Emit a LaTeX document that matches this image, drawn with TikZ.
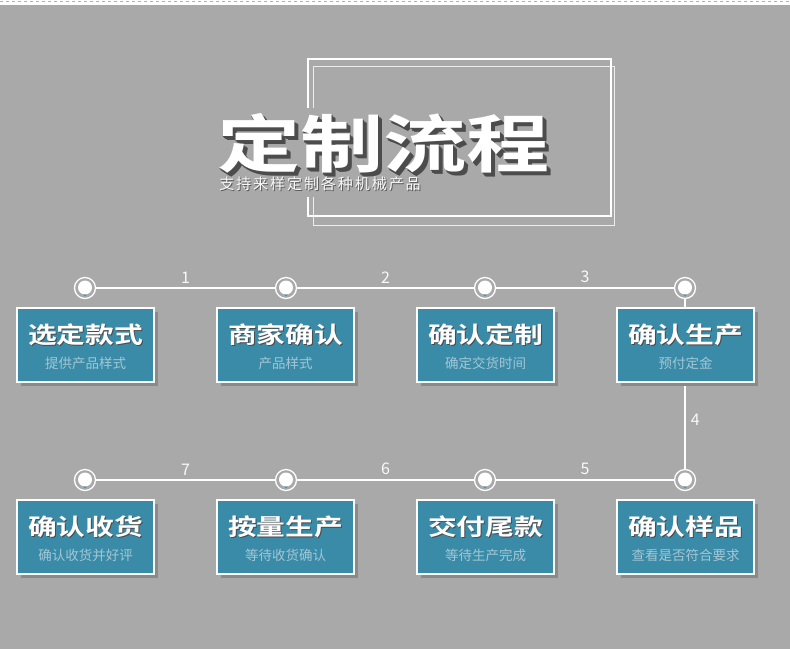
\documentclass[tikz,border=0pt]{standalone}
\usepackage{fontspec}
\usepackage{graphicx}
\newfontfamily\cjk{Noto Sans CJK SC}
\newfontfamily\cjkb{Noto Sans CJK SC Bold}
\newfontfamily\cjkls{Noto Sans CJK SC}[LetterSpace=13]
\usetikzlibrary{shadows}
\definecolor{bg}{HTML}{A9A9A9}
\definecolor{boxc}{HTML}{3A8BA8}
\definecolor{subc}{HTML}{A3C7D5}
\definecolor{shad}{HTML}{8A8A8A}
\definecolor{tshad}{HTML}{4C4C4C}
\newcommand{\ttl}{\scalebox{1.32}[1]{定制流程}}
\newcommand{\extrude}[1]{%
  \makebox[0pt][l]{\color{tshad}\hspace{0.8pt}\raisebox{-0.8pt}{#1}}%
  \makebox[0pt][l]{\color{tshad}\hspace{1.6pt}\raisebox{-1.6pt}{#1}}%
  \makebox[0pt][l]{\color{tshad}\hspace{2.4pt}\raisebox{-2.4pt}{#1}}%
  \makebox[0pt][l]{\color{tshad}\hspace{3.2pt}\raisebox{-3.2pt}{#1}}%
  \makebox[0pt][l]{\color{tshad}\hspace{4pt}\raisebox{-4pt}{#1}}%
  #1}
\newcommand{\softshadow}[1]{%
  \makebox[0pt][l]{\color{tshad}\hspace{1pt}\raisebox{-1pt}{#1}}#1}
\tikzset{
  stepbox/.style={draw=white, line width=1.3pt, fill=boxc, minimum width=137pt,
    minimum height=74pt, inner sep=0pt,
    drop shadow={shadow xshift=4pt, shadow yshift=-4pt, fill=shad, opacity=1}},
  boxtitle/.style={inner sep=0pt, text=white, font=\cjkb\fontsize{23}{23}\selectfont},
  boxsub/.style={inner sep=0pt, text=subc, font=\cjk\fontsize{13.5}{13.5}\selectfont},
  dotn/.style={circle, draw=white, line width=1.3pt, minimum size=21pt, inner sep=0pt},
  conn/.style={draw=white, line width=1.8pt},
  num/.style={text=white!95!gray, inner sep=0pt, font=\cjk\fontsize{16}{16}\selectfont},
  frame/.style={draw=white, line width=1.3pt},
}
\newcommand{\mkstep}[5]{%
  \node[stepbox] (#1) at (#2,#3) {};
  \node[boxtitle] (#1-t) at ([yshift=10pt]#1.center) {\softshadow{\scalebox{1.25}[1]{#4}}};
  \node[boxsub] (#1-s) at ([yshift=-18pt]#1.center) {#5};
}
\newcommand{\mkdot}[3]{%
  \node[dotn] (#1) at (#2,#3) {};
  \fill[boxc] ([xshift=-3pt,yshift=-4pt]#1.center) -- ([xshift=3pt,yshift=-4pt]#1.center)
     -- ([yshift=-8.5pt]#1.center) -- cycle;
  \fill[white] ([yshift=0.5pt]#1.center) circle[radius=7pt];
}
\begin{document}
\begin{tikzpicture}[x=1pt,y=-1pt]
\fill[bg] (0,0) rectangle (790,649);
\useasboundingbox (0,0) rectangle (790,649);
% top strip
\fill[white] (0,0) rectangle (790,5);
\draw[gray!60, line width=1pt, dash pattern=on 3pt off 3pt] (0,1.5) -- (790,1.5);
% title frames
\draw[frame] (308,108) -- (308,59) -- (611,59) -- (611,216) -- (308,216) -- (308,197);
\draw[draw=white, opacity=0.8, line width=1pt] (313,108) -- (313,66) -- (614,66) -- (614,225) -- (313,225) -- (313,197);
% title
\node[inner sep=0pt, text=white, font=\cjkb\fontsize{63}{63}\selectfont] (title) at (383.5,145.5) {\extrude{\ttl}};
\node[inner sep=0pt, text=white!94!gray, font=\cjkls\fontsize{15}{15}\selectfont] (subtitle) at (320,184) {\makebox[0pt][l]{\color{gray!70!black}\hspace{1pt}\raisebox{-1pt}{支持来样定制各种机械产品}}支持来样定制各种机械产品};
% dots
\mkdot{c1}{85}{288}
\mkdot{c2}{286}{288}
\mkdot{c3}{485}{288}
\mkdot{c4}{685}{288}
\mkdot{c5}{685}{480}
\mkdot{c6}{485}{480}
\mkdot{c7}{286}{480}
\mkdot{c8}{85}{480}
% connectors
\draw[conn] (c1) -- node[num, above=4pt] {1} (c2);
\draw[conn] (c2) -- node[num, above=4pt] {2} (c3);
\draw[conn] (c3) -- node[num, above=4pt] {3} (c4);
\draw[conn] (c4) -- node[num, pos=0.71, right=5pt] {4} (c5);
\draw[conn] (c5) -- node[num, above=4pt] {5} (c6);
\draw[conn] (c6) -- node[num, above=4pt] {6} (c7);
\draw[conn] (c7) -- node[num, above=4pt] {7} (c8);
% boxes
\mkstep{b1}{85.5}{345}{选定款式}{提供产品样式}
\mkstep{b2}{285.5}{345}{商家确认}{产品样式}
\mkstep{b3}{485.5}{345}{确认定制}{确定交货时间}
\mkstep{b4}{685.5}{345}{确认生产}{预付定金}
\mkstep{b5}{685.5}{537}{确认样品}{查看是否符合要求}
\mkstep{b6}{485.5}{537}{交付尾款}{等待生产完成}
\mkstep{b7}{285.5}{537}{按量生产}{等待收货确认}
\mkstep{b8}{85.5}{537}{确认收货}{确认收货并好评}
\end{tikzpicture}
\end{document}
